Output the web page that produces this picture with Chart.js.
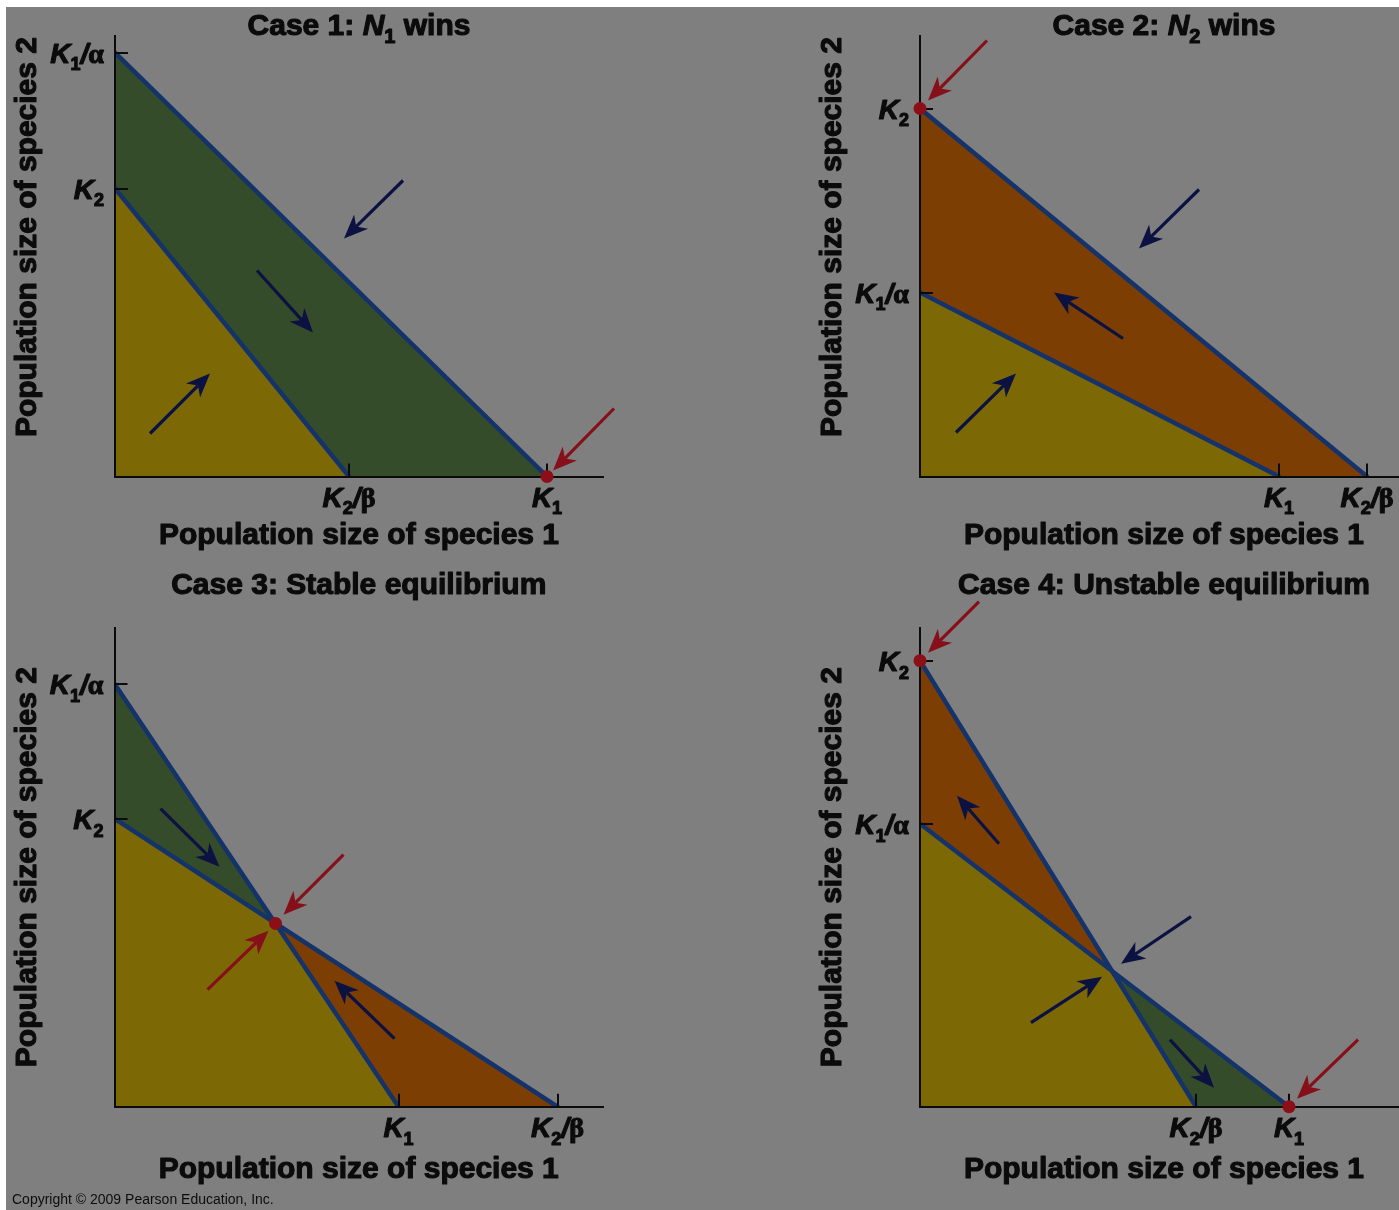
<!DOCTYPE html>
<html lang="en">
<head>
<meta charset="utf-8">
<title>Lotka–Volterra competition: four outcomes</title>
<script src="https://cdn.jsdelivr.net/npm/chart.js@4.4.1/dist/chart.umd.min.js"></script>
<style>
  html, body { margin: 0; padding: 0; width: 1399px; height: 1210px; overflow: hidden; background: #ffffff; }
  #sheet { position: absolute; left: 6px; top: 7px; width: 1393px; height: 1203px; background: #7f7f7f; }
  canvas.panel { position: absolute; left: 0; top: 0; width: 1410px; height: 1210px; }
  #credit { position: absolute; left: 12px; top: 1191px; font: 14px "Liberation Sans", Arial, sans-serif; color: #0d0d0d; white-space: nowrap; }
</style>
</head>
<body>
<div id="sheet"></div>
<canvas class="panel" id="case1" width="1410" height="1210"></canvas>
<canvas class="panel" id="case2" width="1410" height="1210"></canvas>
<canvas class="panel" id="case3" width="1410" height="1210"></canvas>
<canvas class="panel" id="case4" width="1410" height="1210"></canvas>
<div id="credit">Copyright © 2009 Pearson Education, Inc.</div>

<script>
// ---------------- Data (population units) ----------------
const xAxisTitle = 'Population size of species 1';
const yAxisTitle = 'Population size of species 2';

// Tick labels; values below follow the same order
const yTickLabels = ['K1/α', 'K2'];
const xTickLabels = ['K2/β', 'K1'];

// Panel titles as [text, style] runs
const case1Title = [['Case 1: ', 'plain'], ['N', 'italic'], ['1', 'sub'], [' wins', 'plain']];
const case2Title = [['Case 2: ', 'plain'], ['N', 'italic'], ['2', 'sub'], [' wins', 'plain']];
const case3Title = [['Case 3: Stable equilibrium', 'plain']];
const case4Title = [['Case 4: Unstable equilibrium', 'plain']];

// Intercepts on the species-2 axis: [K1/α, K2]
const case1YIntercepts = [424, 288];
const case2YIntercepts = [184, 368];
const case3YIntercepts = [423, 288];
const case4YIntercepts = [283, 446];

// Intercepts on the species-1 axis: [K2/β, K1]
const case1XIntercepts = [234, 432];
const case2XIntercepts = [447, 359];
const case3XIntercepts = [443, 284];
const case4XIntercepts = [276, 369];

// Boundary of the zone where both populations grow
const case1BothGrow = [[0, 288], [234, 0]];
const case2BothGrow = [[0, 184], [359, 0]];
const case3BothGrow = [[0, 288], [161, 183.3], [284, 0]];
const case4BothGrow = [[0, 283], [192, 135.8], [276, 0]];

// Equilibrium points
const case1Equilibria = [[432, 0]];
const case2Equilibria = [[0, 368]];
const case3Equilibria = [[161, 183.3]];
const case4Equilibria = [[0, 446], [369, 0]];

// Direction of population change: [fromN1, fromN2, toN1, toN2]
const case1Trends = [[288, 296, 229, 238], [142, 206, 198, 144], [35, 43, 95, 103]];
const case2Trends = [[279, 287, 219, 228], [203, 138, 134, 184], [36, 44, 96, 103]];
const case3Trends = [[46, 298, 105, 240], [280, 68, 220, 126]];
const case4Trends = [[79, 263, 37, 311], [271, 190, 201, 143], [111, 84, 182, 130], [250, 67, 294, 19]];

// Arrows pointing at stable end points: [fromN1, fromN2, toN1, toN2]
const case1Attractors = [[499, 68, 438, 6]];
const case2Attractors = [[67, 436, 8, 376]];
const case3Attractors = [[229, 252, 169, 192], [93, 117, 154, 176]];
const case4Attractors = [[59, 505, 8, 454], [438, 67, 377, 8]];

// ---------------- Styling ----------------
const SANS = '"Liberation Sans", Arial, Helvetica, sans-serif';
const SERIF = '"Liberation Serif", "Times New Roman", serif';
const INK = '#0b0b0b';
const FILL_N1 = '#344c29';    // species 1 grows, species 2 declines
const FILL_N2 = '#7c3e03';    // species 2 grows, species 1 declines
const FILL_BOTH = '#7c6906';  // both grow
const ISOCLINE = '#14336a';
const TREND = '#0b1242';
const ATTRACT = '#86101a';
const DOT = '#8c0f18';
const TEXT_WEIGHT = 1.1;      // extra stroke for the heavy lettering

const CANVAS_W = 1410, CANVAS_H = 1210;

// Plot boxes on the page
const panelBoxes = [
  { left: 115, right: 603, top: 36, bottom: 476.5, xMax: 488, yMax: 440.5, titleY: 35, xTitleDy: 67.5, yTitleX: 36, yTitleAlign: 'end' },
  { left: 920, right: 1408, top: 36, bottom: 476.5, xMax: 488, yMax: 440.5, titleY: 35, xTitleDy: 67.5, yTitleX: 841, yTitleAlign: 'end' },
  { left: 114.5, right: 603, top: 627.5, bottom: 1106.7, xMax: 488.5, yMax: 479.2, titleY: 594, xTitleDy: 71.5, yTitleX: 36, yTitleAlign: 'center' },
  { left: 920, right: 1408, top: 627.5, bottom: 1106.7, xMax: 488, yMax: 479.2, titleY: 594, xTitleDy: 71.5, yTitleX: 841, yTitleAlign: 'center' }
];

// ---------------- Text helpers ----------------
function runFont(style, size) {
  switch (style) {
    case 'italic': return { font: `italic bold ${size}px ${SANS}`, dy: 0 };
    case 'sub': return { font: `bold ${Math.round(size * 0.66)}px ${SANS}`, dy: size * 0.28 };
    case 'greek': return { font: `bold ${size}px ${SERIF}`, dy: 0 };
    default: return { font: `bold ${size}px ${SANS}`, dy: 0 };
  }
}

function tickRuns(label) {
  const runs = [];
  for (const ch of label) {
    if (/[0-9]/.test(ch)) runs.push([ch, 'sub']);
    else if (/[\u03b1-\u03c9]/.test(ch)) runs.push([ch, 'greek']);
    else runs.push([ch, 'italic']);
  }
  return runs;
}

function heavyText(ctx, t, x, y) {
  ctx.fillText(t, x, y);
  ctx.lineWidth = TEXT_WEIGHT;
  ctx.lineJoin = 'round';
  ctx.strokeStyle = ctx.fillStyle;
  ctx.strokeText(t, x, y);
}

function drawRuns(ctx, runs, x, y, align, size) {
  const parts = runs.map(([t, style]) => {
    const f = runFont(style, size);
    ctx.font = f.font;
    return { t, font: f.font, dy: f.dy, w: ctx.measureText(t).width };
  });
  const total = parts.reduce((s, p) => s + p.w, 0);
  let cx = align === 'center' ? x - total / 2 : align === 'right' ? x - total : x;
  ctx.textAlign = 'left';
  ctx.textBaseline = 'alphabetic';
  for (const p of parts) {
    ctx.font = p.font;
    heavyText(ctx, p.t, cx, y + p.dy);
    cx += p.w;
  }
}

function drawArrow(ctx, xs, ys, a, color) {
  const x1 = xs.getPixelForValue(a[0]), y1 = ys.getPixelForValue(a[1]);
  const x2 = xs.getPixelForValue(a[2]), y2 = ys.getPixelForValue(a[3]);
  const len = Math.hypot(x2 - x1, y2 - y1);
  const ux = (x2 - x1) / len, uy = (y2 - y1) / len;
  const nx = -uy, ny = ux;
  const headLen = 24, halfW = 10, notch = 7;
  const bx = x2 - ux * headLen, by = y2 - uy * headLen;
  const mx = x2 - ux * (headLen - notch), my = y2 - uy * (headLen - notch);
  ctx.strokeStyle = color;
  ctx.fillStyle = color;
  ctx.lineWidth = 3.2;
  ctx.lineCap = 'butt';
  ctx.beginPath();
  ctx.moveTo(x1, y1);
  ctx.lineTo(mx, my);
  ctx.stroke();
  ctx.beginPath();
  ctx.moveTo(x2, y2);
  ctx.lineTo(bx + nx * halfW, by + ny * halfW);
  ctx.lineTo(mx, my);
  ctx.lineTo(bx - nx * halfW, by - ny * halfW);
  ctx.closePath();
  ctx.fill();
}

// ---------------- Chart construction ----------------
function phasePlanePlugin(c, box) {
  return {
    id: 'phasePlane',
    afterDraw(chart) {
      const ctx = chart.ctx;
      const xs = chart.scales.x, ys = chart.scales.y;
      const x0 = xs.getPixelForValue(0), y0 = ys.getPixelForValue(0);
      ctx.save();

      // tick marks point into the plot
      ctx.strokeStyle = INK;
      ctx.lineWidth = 2;
      c.x.forEach(v => {
        const px = Math.round(xs.getPixelForValue(v));
        ctx.beginPath(); ctx.moveTo(px, y0); ctx.lineTo(px, y0 - 13); ctx.stroke();
      });
      c.y.forEach(v => {
        const py = Math.round(ys.getPixelForValue(v));
        ctx.beginPath(); ctx.moveTo(x0, py); ctx.lineTo(x0 + 13, py); ctx.stroke();
      });

      // tick labels
      ctx.fillStyle = INK;
      xTickLabels.forEach((lab, i) => drawRuns(ctx, tickRuns(lab), xs.getPixelForValue(c.x[i]), y0 + 30, 'center', 28));
      yTickLabels.forEach((lab, i) => drawRuns(ctx, tickRuns(lab), x0 - 11, ys.getPixelForValue(c.y[i]) + 10, 'right', 28));

      // flow arrows
      c.trends.forEach(a => drawArrow(ctx, xs, ys, a, TREND));
      c.attractors.forEach(a => drawArrow(ctx, xs, ys, a, ATTRACT));

      // equilibrium points
      ctx.fillStyle = DOT;
      c.equilibria.forEach(([ex, ey]) => {
        ctx.beginPath();
        ctx.arc(xs.getPixelForValue(ex), ys.getPixelForValue(ey), 6.5, 0, Math.PI * 2);
        ctx.fill();
      });

      // panel title
      ctx.fillStyle = INK;
      const cx = (xs.left + xs.right) / 2;
      drawRuns(ctx, c.title, cx, box.titleY, 'center', 30);

      // axis titles
      ctx.font = `bold 30px ${SANS}`;
      ctx.textAlign = 'center';
      ctx.textBaseline = 'alphabetic';
      heavyText(ctx, xAxisTitle, cx, y0 + box.xTitleDy);

      ctx.save();
      if (box.yTitleAlign === 'end') {
        ctx.translate(box.yTitleX, ys.top + 1);
        ctx.rotate(-Math.PI / 2);
        ctx.textAlign = 'right';
      } else {
        ctx.translate(box.yTitleX, (ys.top + ys.bottom) / 2);
        ctx.rotate(-Math.PI / 2);
        ctx.textAlign = 'center';
      }
      heavyText(ctx, yAxisTitle, 0, 0);
      ctx.restore();

      ctx.restore();
    }
  };
}

function buildCase(canvasId, c, box) {
  const [k1OverAlpha, k2] = c.y;
  const [k2OverBeta, k1] = c.x;
  const n1Isocline = [{ x: 0, y: k1OverAlpha }, { x: k1, y: 0 }];
  const n2Isocline = [{ x: 0, y: k2 }, { x: k2OverBeta, y: 0 }];
  const bothGrow = c.bothGrow.map(([x, y]) => ({ x, y }));

  const area = (data, color, order) => ({
    data, order, fill: 'origin', backgroundColor: color,
    borderWidth: 0, pointRadius: 0, tension: 0
  });
  const isocline = (data, order) => ({
    data, order, fill: false, borderColor: ISOCLINE,
    borderWidth: 4.5, pointRadius: 0, tension: 0, borderCapStyle: 'round'
  });

  const hiddenAxis = (max) => ({
    type: 'linear', min: 0, max,
    grid: { display: false, drawTicks: false, tickLength: 0 },
    ticks: { display: false },
    title: { display: false },
    border: { display: true, color: INK, width: 2, z: 1 }
  });

  return new Chart(document.getElementById(canvasId), {
    type: 'line',
    data: {
      datasets: [
        area(n1Isocline, FILL_N1, 5),
        area(n2Isocline, FILL_N2, 4),
        area(bothGrow, FILL_BOTH, 3),
        isocline(n2Isocline, 2),
        isocline(n1Isocline, 1)
      ]
    },
    options: {
      responsive: false,
      devicePixelRatio: 1,
      animation: false,
      events: [],
      layout: {
        padding: {
          left: box.left,
          top: box.top,
          right: CANVAS_W - box.right,
          bottom: CANVAS_H - box.bottom
        }
      },
      scales: { x: hiddenAxis(box.xMax), y: hiddenAxis(box.yMax) },
      plugins: { legend: { display: false }, tooltip: { enabled: false }, title: { display: false } }
    },
    plugins: [phasePlanePlugin(c, box)]
  });
}

const cases = [
  { title: case1Title, y: case1YIntercepts, x: case1XIntercepts, bothGrow: case1BothGrow, equilibria: case1Equilibria, trends: case1Trends, attractors: case1Attractors },
  { title: case2Title, y: case2YIntercepts, x: case2XIntercepts, bothGrow: case2BothGrow, equilibria: case2Equilibria, trends: case2Trends, attractors: case2Attractors },
  { title: case3Title, y: case3YIntercepts, x: case3XIntercepts, bothGrow: case3BothGrow, equilibria: case3Equilibria, trends: case3Trends, attractors: case3Attractors },
  { title: case4Title, y: case4YIntercepts, x: case4XIntercepts, bothGrow: case4BothGrow, equilibria: case4Equilibria, trends: case4Trends, attractors: case4Attractors }
];

cases.forEach((c, i) => buildCase('case' + (i + 1), c, panelBoxes[i]));
</script>
</body>
</html>
